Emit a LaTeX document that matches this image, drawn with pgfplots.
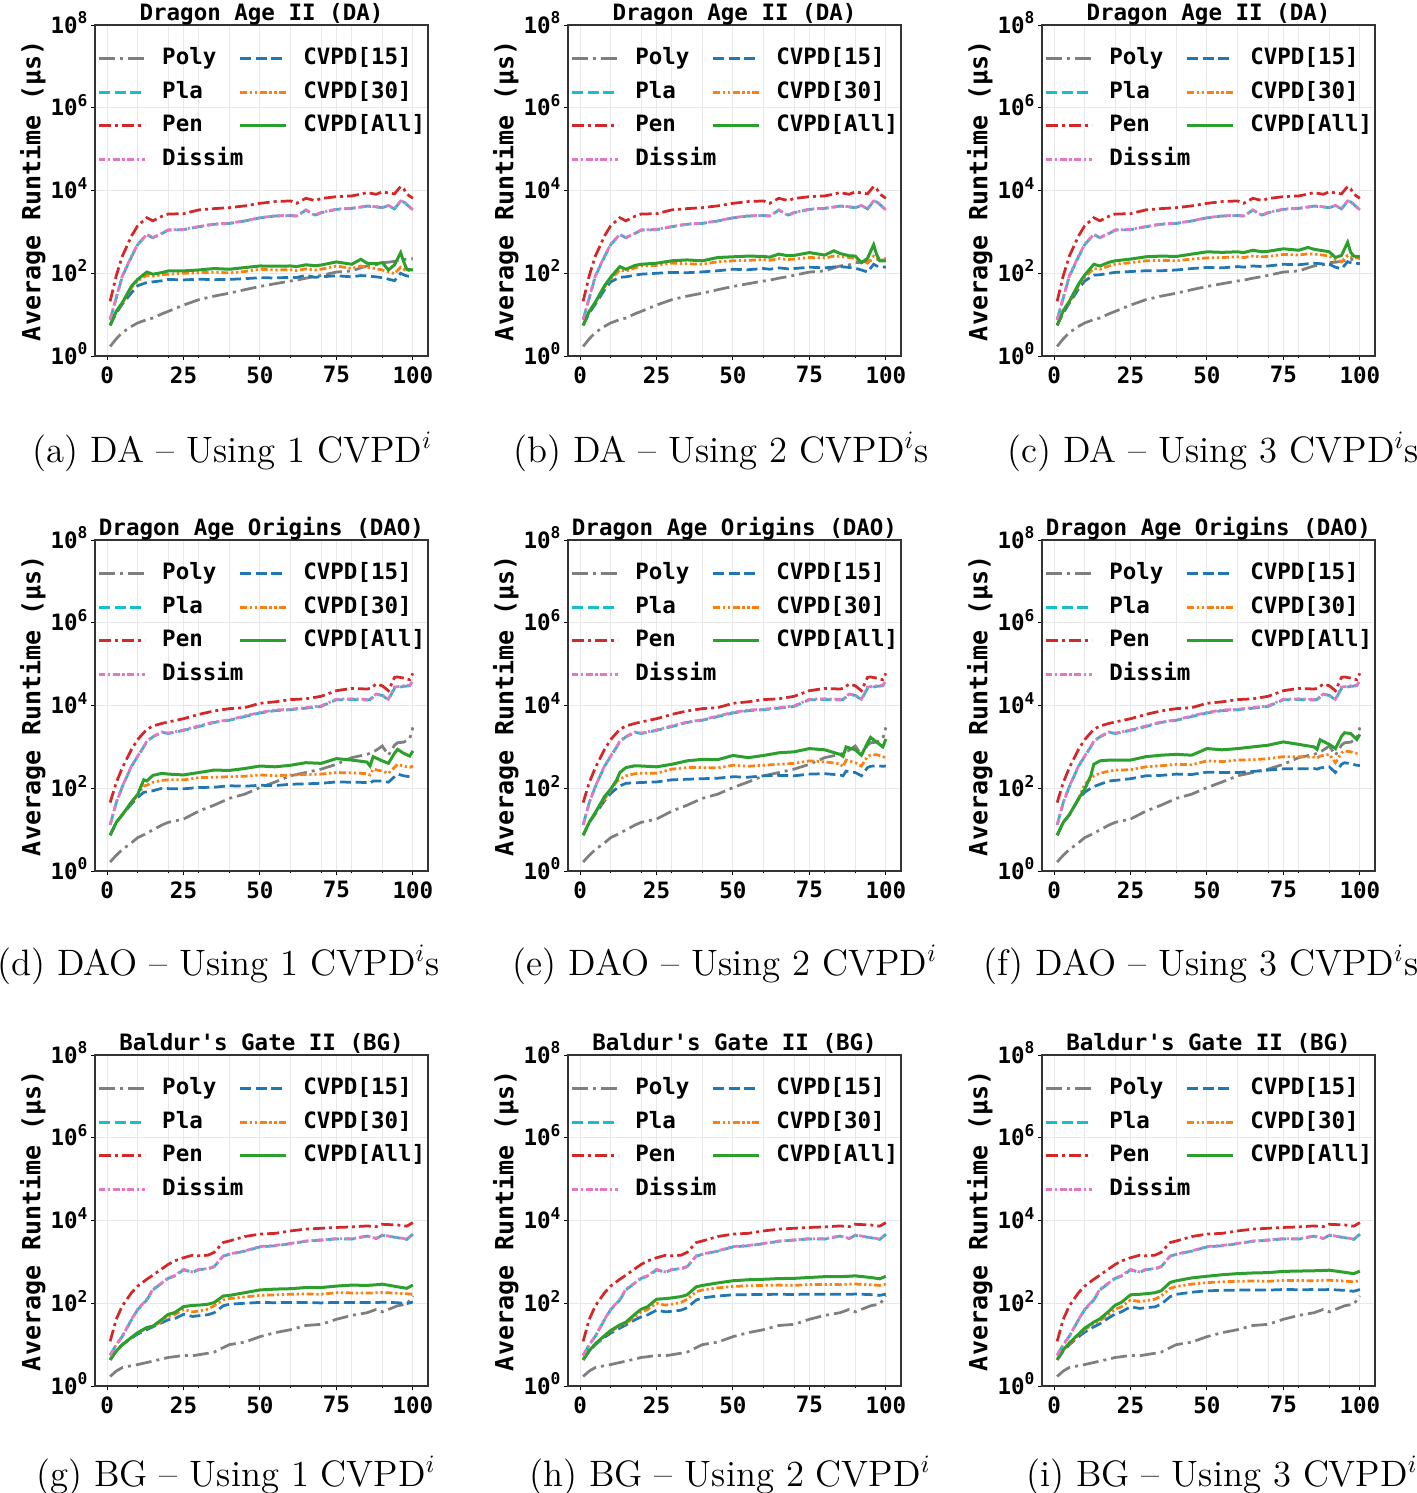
\documentclass[border=0pt]{standalone}
\usepackage{fontspec}
\setmonofont{DejaVu Sans Mono}
\usepackage{pgfplots}
\usepackage{pgfplotstable}
\pgfplotsset{compat=1.18}

\definecolor{cpoly}{HTML}{7F7F7F}
\definecolor{cpla}{HTML}{17BECF}
\definecolor{cpen}{HTML}{D62728}
\definecolor{cdis}{HTML}{E377C2}
\definecolor{cfif}{HTML}{1F77B4}
\definecolor{cthi}{HTML}{FF7F0E}
\definecolor{cgrn}{HTML}{2CA02C}

\newcommand\mfont{\ttfamily\bfseries\fontsize{9}{10.8}\selectfont}
\newcommand\tp[1]{10\smash{\raisebox{0.42em}{\fontsize{6.5}{7}\selectfont #1}}}

% baselines, one table per game (same in every column)
\pgfplotstableread{
x poly pla pen dissim
1 1.7 7.5 21 7.7
3 2.6 25 87 26
5 3.7 85 260 87
8 5.2 250 800 260
10 6.3 490 1400 500
13 7.6 860 2200 870
15 8.3 720 1850 730
18 10.5 920 2400 930
20 12 1100 2700 1120
25 17 1130 2750 1150
30 23 1330 3400 1350
35 28 1530 3650 1550
40 33 1600 3850 1620
45 40 1830 4250 1850
50 48 2180 4900 2200
55 56 2420 5400 2450
60 65 2480 5600 2500
62 68 2400 4900 2420
65 76 3350 6500 3400
68 83 2550 5700 2500
70 89 2900 6400 2950
75 107 3500 7100 3550
80 114 3700 7400 3750
83 135 3950 8200 4000
85 150 4200 8900 4250
88 160 4000 8100 4050
90 180 3850 9300 3900
92 185 4300 8700 4350
94 195 3600 8300 3650
96 210 5500 12500 5600
97 215 5300 11000 5400
98 218 4600 8200 4700
100 225 3350 6500 3400
}\baseDA

\pgfplotstableread{
x poly pla pen dissim
1 1.65 13 45 13
3 2.4 45 137 45
5 3.3 110 316 112
8 4.8 340 870 350
10 6.4 590 1500 600
12 7.5 1000 2200 1020
13 8.3 1350 2650 1380
15 9.8 1750 3200 1780
18 13 2250 3700 2300
20 15 2100 4000 2150
25 18 2500 4800 2570
30 28 3100 6100 3200
35 39 3900 7400 4000
40 57 4400 8400 4500
45 72 5400 8900 5600
50 104 6600 11300 6800
55 142 7500 12300 7800
60 200 7900 13900 8100
65 240 8600 14500 8900
70 290 9500 16700 9800
75 380 13800 22800 14200
80 550 14000 26000 14500
85 660 13500 25000 14000
86 700 14000 26000 14300
87 760 16000 29000 16500
88 830 18500 33000 19000
90 1050 17500 30000 18000
92 630 13800 22800 14100
94 1100 26000 48000 28000
95 1260 27000 49000 28500
97 1300 29000 46000 30000
99 1600 30000 42000 31000
100 2950 38000 60000 39000
}\baseDAO

\pgfplotstableread{
x poly pla pen dissim
1 1.7 5.5 12 5.5
3 2.3 10 41 10
5 2.8 16 87 16
8 3.1 40 180 41
10 3.3 70 260 71
13 3.7 120 380 125
15 4.0 210 480 220
18 4.5 310 690 316
20 4.9 400 870 415
22 5.1 450 1050 460
25 5.5 640 1260 660
28 5.4 560 1450 570
30 5.7 650 1400 660
33 6.2 680 1450 690
35 6.6 760 1700 770
38 8.5 1380 2950 1400
40 10 1520 3200 1550
45 11.5 1820 4100 1850
50 15.6 2300 4700 2350
55 19.5 2450 4900 2500
60 23 2750 5600 2800
65 29 3150 6200 3200
70 31 3350 6500 3400
75 41 3600 6800 3650
80 51 3550 7000 3600
85 59 4200 7400 4250
88 71 3650 7100 3700
90 62 4400 8100 4450
95 87 3850 7800 3900
98 95 3500 7300 3550
100 150 4650 8900 4700
}\baseBG

% CVPD runs, one table per panel
\pgfplotstableread{
x c15 c30 call
1 5.5 5.5 5.5
3 11 12 12
5 18 19 19.5
8 34 45 49
10 50 65 71
13 60 90 107
15 62 85 95
18 66 92 104
20 71 95 114
25 69 100 114
30 72 103 120
35 70 106 130
40 71 102 125
45 74 110 137
50 78 125 150
55 77 120 148
60 80 122 150
62 79 116 145
65 89 128 160
68 80 120 152
70 82 125 158
75 87 150 188
80 82 130 165
83 88 150 218
85 86 140 175
88 82 128 170
90 78 120 180
92 72 108 120
94 66 98 160
96 100 140 316
97 92 125 190
98 86 118 125
100 83 114 120
}\cvA

\pgfplotstableread{
x c15 c30 call
1 5.5 5.5 5.5
3 11 12 12
5 18 20 20
8 40 47 50
10 62 72 80
13 80 120 145
15 82 112 125
18 90 135 155
20 95 150 165
25 100 155 175
30 105 175 200
35 103 170 210
40 108 165 200
45 115 190 240
50 125 200 250
55 122 205 260
60 130 215 255
62 125 205 245
65 135 225 290
68 128 215 265
70 130 220 270
75 140 240 316
80 135 235 275
83 142 260 350
85 145 255 300
88 138 240 265
90 132 230 260
92 120 190 180
94 107 175 230
96 165 260 490
97 150 235 280
98 145 215 200
100 140 205 200
}\cvB

\pgfplotstableread{
x c15 c30 call
1 5.5 5.5 5.5
3 11 12 12.5
5 19 20 21
8 42 50 55
10 65 80 90
13 90 130 165
15 92 125 150
18 100 150 185
20 105 165 200
25 110 180 220
30 115 200 250
35 115 205 260
40 120 200 255
45 130 220 290
50 138 235 330
55 135 240 320
60 145 250 330
62 140 240 315
65 150 260 360
68 145 250 330
70 150 255 340
75 165 285 390
80 160 275 360
83 170 295 420
85 175 290 380
88 168 275 350
90 165 260 330
92 140 215 240
94 128 190 270
96 190 270 560
97 180 255 320
98 175 240 260
100 172 230 250
}\cvC

\pgfplotstableread{
x c15 c30 call
1 7.3 7.3 7.3
3 15 15 15
5 23 23 23
8 42 46 47
10 60 68 71
12 80 114 160
13 82 118 150
15 87 140 205
18 100 155 230
20 98 160 220
25 97 160 210
30 104 180 240
35 106 185 275
40 115 190 270
45 112 195 300
50 118 210 345
55 116 200 330
60 125 210 360
65 128 215 415
70 132 220 400
75 142 240 520
80 140 235 480
85 138 225 430
86 132 210 345
87 150 290 580
90 150 260 460
92 140 230 400
94 190 320 700
95 220 380 870
97 200 340 700
99 190 320 600
100 200 345 800
}\cvD

\pgfplotstableread{
x c15 c30 call
1 7.3 7.3 7.3
3 15 15 15
5 24 25 26
8 50 55 63
10 75 90 95
12 100 145 160
13 114 165 240
15 132 200 316
18 135 225 350
20 138 230 345
25 142 230 330
30 160 290 380
35 165 316 460
40 170 316 500
45 175 310 490
50 190 360 620
55 185 340 550
60 200 360 620
65 205 380 720
70 200 400 760
75 220 460 910
80 225 435 850
85 210 390 660
86 200 330 590
87 260 480 1000
90 240 415 850
92 200 345 630
94 316 590 1260
95 340 630 1700
97 350 650 1300
99 340 580 1000
100 345 550 1550
}\cvE

\pgfplotstableread{
x c15 c30 call
1 7.3 7.3 7.3
3 15 15 15
5 23 23 23
8 55 55 56
10 80 125 95
12 100 170 200
13 110 200 380
15 125 230 460
18 150 260 480
20 155 275 480
25 170 280 480
30 200 330 580
35 205 350 630
40 220 380 660
45 215 370 630
50 245 460 910
55 240 440 850
60 240 480 910
65 255 490 1000
70 275 520 1100
75 295 580 1320
80 295 580 1150
85 300 560 1000
86 290 540 870
87 310 600 1480
90 330 660 1150
92 240 415 910
94 380 720 1800
95 415 800 2200
97 390 760 2100
99 360 700 1510
100 355 700 2000
}\cvF

\pgfplotstableread{
x c15 c30 call
1 4.3 4.3 4.3
3 7 7 7
5 10 10 10
8 14.5 15 15
10 18 19 19.5
13 23 25 26
15 27 28 28
18 34 37 41
20 40 48 54
22 42 52 59
25 54 71 83
28 48 62 89
30 50 65 90
33 53 72 95
35 59 87 104
38 87 120 150
40 95 130 155
45 100 142 180
50 105 155 210
55 103 160 220
60 105 165 225
65 104 168 240
70 102 165 240
75 105 180 260
80 104 178 275
85 105 176 270
88 104 180 280
90 106 182 290
95 103 175 250
98 98 170 230
100 107 165 275
}\cvG

\pgfplotstableread{
x c15 c30 call
1 4.3 4.3 4.3
3 7 7 7.2
5 10 10 10.5
8 15 16 16.5
10 19 21 22
13 25 28 30
15 30 33 35
18 40 47 55
20 47 62 72
22 52 70 82
25 68 100 125
28 62 90 130
30 64 95 135
33 68 105 145
35 78 125 160
38 120 190 250
40 135 210 270
45 150 235 310
50 160 255 350
55 162 265 370
60 163 270 380
65 165 275 395
70 163 270 400
75 166 285 420
80 165 285 440
85 166 282 440
88 165 290 450
90 167 292 460
95 162 280 420
98 155 270 390
100 166 290 450
}\cvH

\pgfplotstableread{
x c15 c30 call
1 4.3 4.3 4.3
3 7 7.2 7.5
5 10 10.5 11
8 15.5 17 18
10 20 23 25
13 27 32 35
15 32 38 42
18 45 55 65
20 55 72 90
22 62 82 105
25 82 120 160
28 75 110 165
30 78 115 170
33 82 125 180
35 95 150 200
38 145 230 320
40 165 255 350
45 185 290 410
50 200 316 450
55 205 330 490
60 208 340 520
65 210 345 540
70 208 340 550
75 215 355 590
80 213 355 600
85 214 350 610
88 212 358 620
90 215 360 630
95 205 345 560
98 195 330 520
100 215 355 600
}\cvI

\tikzset{
  spoly/.style={cpoly, line width=1.1pt, dash pattern=on 6.4pt off 2pt on 1.2pt off 2pt},
  spla/.style={cpla, line width=1.1pt, dash pattern=on 4.4pt off 1.9pt},
  spen/.style={cpen, line width=1.1pt, dash pattern=on 4.8pt off 1.6pt on 1.2pt off 1.6pt},
  sdis/.style={cdis, line width=1.1pt, dash pattern=on 2.6pt off 1.1pt on 0.9pt off 1.1pt},
  sfif/.style={cfif, line width=1.1pt, dash pattern=on 4.4pt off 1.9pt},
  sthi/.style={cthi, line width=1.1pt, dash pattern=on 2.8pt off 1.1pt on 0.9pt off 1.1pt on 0.9pt off 1.1pt},
  sall/.style={cgrn, line width=1.2pt},
}

\newcommand\panel[4]{%
\begin{axis}[
    at={#1}, anchor=south west, title={#2},
    scale only axis, width=133.2pt, height=132.4pt,
    ymode=log, ymin=1, ymax=1e8, xmin=-3.95, xmax=104.95,
    ytick={1,1e2,1e4,1e6,1e8},
    yticklabels={\tp0,\tp2,\tp4,\tp6,\tp8},
    yminorticks=false,
    xtick={0,25,50,75,100},
    xticklabels={0,25,50,75,100},
    minor xtick={10,20,30,40,60,70,80,90},
    xmajorgrids, xminorgrids, ymajorgrids,
    major grid style={black!9, line width=0.4pt},
    minor grid style={black!9, line width=0.4pt},
    tick align=outside, tick pos=left,
    major tick length=1.6pt, minor tick length=0.9pt,
    tick style={black, line width=0.4pt},
    axis line style={black!80, line width=0.5pt},
    ticklabel style={font=\mfont, inner sep=0pt},
    xticklabel style={yshift=-2.4pt},
    yticklabel style={xshift=-1.2pt},
    title style={font=\mfont, at={(0.5,1)}, anchor=base, yshift=-4pt},
    ylabel={Average Runtime (μs)},
    ylabel style={font=\ttfamily\bfseries\fontsize{10}{12}\selectfont,
      at={(axis description cs:-0.147,0.5)}, anchor=south, inner sep=0pt},
    legend columns=2,
    legend cell align=left,
    legend image code/.code={\draw[##1] (0pt,0pt) -- (18.4pt,0pt);},
    legend style={draw=none, fill=none, font=\mfont, inner sep=0pt,
      at={(axis description cs:0,1)}, anchor=north west,
      xshift=0.8pt, yshift=-9.1pt, row sep=5pt,
      nodes={inner sep=0pt, text height=6.6pt, text depth=1.8pt},
      /tikz/every odd column/.append style={column sep=6.4pt},
      /tikz/every even column/.append style={column sep=-2.1pt}},
  ]
\addplot[spoly] table[x=x,y=poly]{#3};
\addplot[sfif] table[x=x,y=c15]{#4};
\addplot[spla] table[x=x,y=pla]{#3};
\addplot[sthi] table[x=x,y=c30]{#4};
\addplot[spen] table[x=x,y=pen]{#3};
\addplot[sall] table[x=x,y=call]{#4};
\addplot[sdis] table[x=x,y=dissim]{#3};
\legend{Poly,{CVPD[15]},Pla,{CVPD[30]},Pen,{CVPD[All]},Dissim}
\end{axis}}

\begin{document}
\begin{tikzpicture}
\useasboundingbox (0,0) rectangle (566.8pt,-597.2pt);

\panel{(38pt,-142.4pt)}{Dragon Age II (DA)}{\baseDA}{\cvA}
\panel{(227.2pt,-142.4pt)}{Dragon Age II (DA)}{\baseDA}{\cvB}
\panel{(416.8pt,-142.4pt)}{Dragon Age II (DA)}{\baseDA}{\cvC}

\panel{(38pt,-348.4pt)}{Dragon Age Origins (DAO)}{\baseDAO}{\cvD}
\panel{(227.2pt,-348.4pt)}{Dragon Age Origins (DAO)}{\baseDAO}{\cvE}
\panel{(416.8pt,-348.4pt)}{Dragon Age Origins (DAO)}{\baseDAO}{\cvF}

\panel{(38pt,-554.4pt)}{Baldur's Gate II (BG)}{\baseBG}{\cvG}
\panel{(227.2pt,-554.4pt)}{Baldur's Gate II (BG)}{\baseBG}{\cvH}
\panel{(416.8pt,-554.4pt)}{Baldur's Gate II (BG)}{\baseBG}{\cvI}

\begin{scope}[every node/.style={anchor=base, inner sep=0pt, font=\fontsize{14.7}{17}\selectfont}]
\node at (93pt,-184.8pt) {(a) DA -- Using 1 CVPD$^i$};
\node at (288.4pt,-184.8pt) {(b) DA -- Using 2 CVPD$^i$s};
\node at (485.2pt,-184.8pt) {(c) DA -- Using 3 CVPD$^i$s};
\node at (87.4pt,-390pt) {(d) DAO -- Using 1 CVPD$^i$s};
\node at (290pt,-390pt) {(e) DAO -- Using 2 CVPD$^i$};
\node at (480.4pt,-390pt) {(f) DAO -- Using 3 CVPD$^i$s};
\node at (94.4pt,-594.4pt) {(g) BG -- Using 1 CVPD$^i$};
\node at (292pt,-594.4pt) {(h) BG -- Using 2 CVPD$^i$};
\node at (488.8pt,-594.4pt) {(i) BG -- Using 3 CVPD$^i$};
\end{scope}
\end{tikzpicture}
\end{document}
